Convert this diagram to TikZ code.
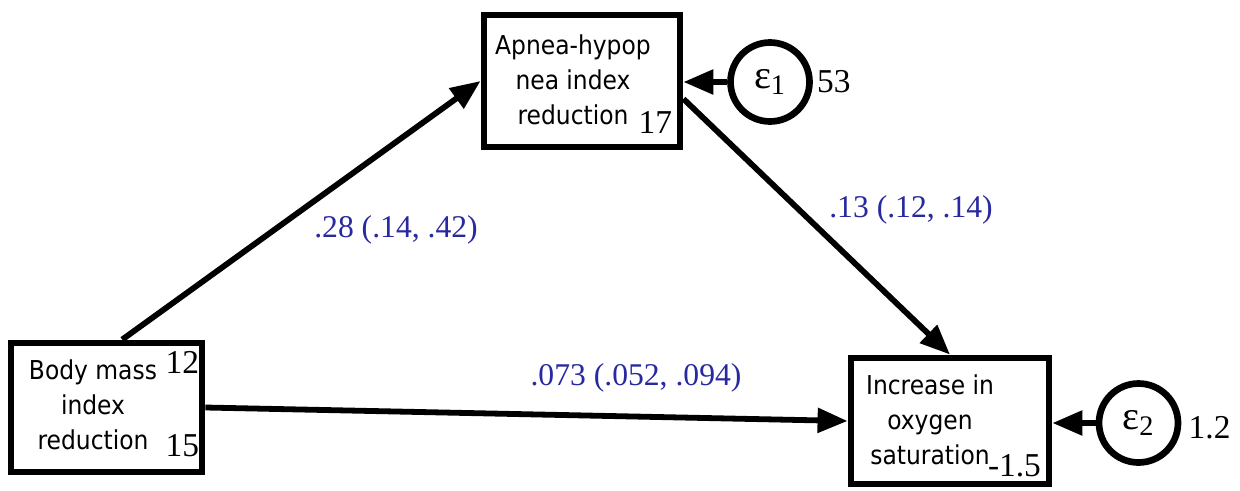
\documentclass[tikz,border=0pt]{standalone}
\usepackage{fontspec}
\setmainfont{Liberation Serif}
\newfontfamily\boxfont{DejaVu Sans Condensed}
\usepackage{tikz}
\usetikzlibrary{calc}
\usetikzlibrary{positioning}
\usetikzlibrary{arrows.meta}
\definecolor{coefblue}{RGB}{40,40,160}

\tikzset{
	var/.style={draw, line width=3.9pt, inner sep=0pt},
	err/.style={circle, draw, line width=3.8pt, minimum size=1.58cm, inner sep=0pt,
		font=\fontsize{23}{23}\selectfont},
	effect/.style={line width=3.3pt, -{Triangle[length=0.6cm, width=0.48cm]}},
	coef/.style={text=coefblue, font=\fontsize{18}{20}\selectfont, inner sep=0pt},
	num/.style={font=\fontsize{19}{20}\selectfont, inner sep=0pt},
	boxtxt/.style={align=center, font=\boxfont\fontsize{14.8}{19.8}\selectfont, inner sep=0pt}
}

\begin{document}
\begin{tikzpicture}
	\useasboundingbox (0,0) rectangle (24.8,9.8);

	% observed variables
	\node [var, minimum width=3.82cm, minimum height=2.58cm] (BMI) at (2.13,1.65) {};
	\node [var, minimum width=3.92cm, minimum height=2.64cm] (AHI) at (11.64,8.18) {};
	\node [var, minimum width=3.96cm, minimum height=2.52cm] (OX)  at (19.0,1.38) {};

	\node [boxtxt] (BMI-txt) at ($(BMI.center)+(-0.27,0.05)$) {Body mass\\index\\reduction};
	\node [boxtxt] (AHI-txt) at ($(AHI.center)+(-0.18,0.02)$) {Apnea-hypop\\nea index\\reduction};
	\node [boxtxt] (OX-txt)  at ($(OX.center)+(-0.4,0.02)$)   {Increase in\\oxygen\\saturation};

	\node [num] (BMI-a) at ($(BMI.north east)+(-0.46,-0.46)$) {12};
	\node [num] (BMI-b) at ($(BMI.south east)+(-0.46,0.6)$)   {15};
	\node [num] (AHI-a) at ($(AHI.south east)+(-0.56,0.56)$)  {17};
	\node [num] (OX-a)  at ($(OX.south east)+(-0.76,0.44)$)   {-1.5};

	% error terms
	\node [err] (E1) at (15.4,8.16)  {ε\textsubscript{1}};
	\node [err] (E2) at (22.77,1.34) {ε\textsubscript{2}};
	\node [num, right=0.08cm of E1] (E1-v) {53};
	\node [num, right=0.14cm of E2, yshift=-0.1cm] (E2-v) {1.2};

	% paths
	\draw [effect] (BMI.77) -- (AHI.west);
	\draw [effect] (AHI.-10) -- (OX.north);
	\draw [effect] (BMI.east) -- (OX.west);
	\draw [effect] (E1) -- (AHI.east |- E1);
	\draw [effect] (E2) -- (OX.east |- E2);

	\node [coef] (c-bmi-ahi) at (7.92,5.2)  {.28 (.14, .42)};
	\node [coef] (c-ahi-ox)  at (18.22,5.6) {.13 (.12, .14)};
	\node [coef] (c-bmi-ox)  at (12.72,2.24) {.073 (.052, .094)};
\end{tikzpicture}
\end{document}
